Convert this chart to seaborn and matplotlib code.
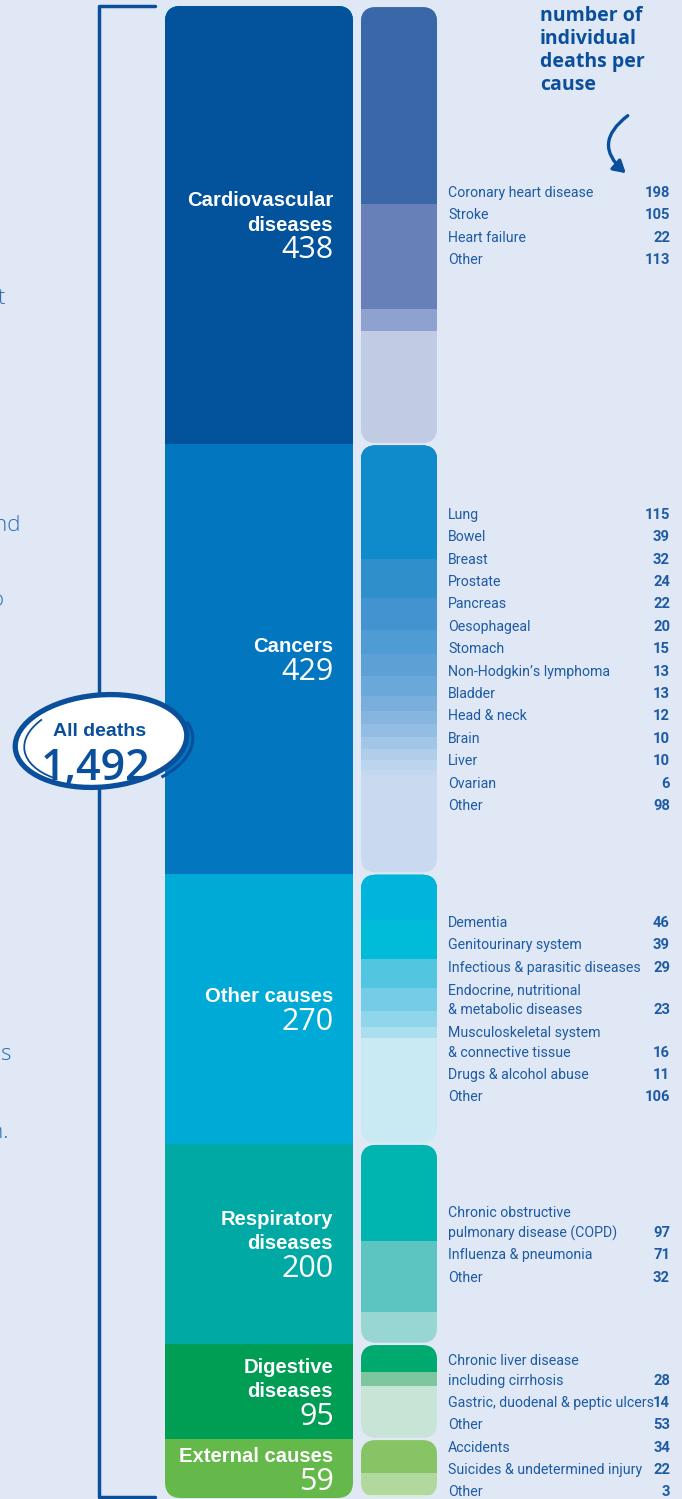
import seaborn as sns
import matplotlib.pyplot as plt
import pandas as pd
from matplotlib.patches import FancyBboxPatch, Ellipse, Arc
from matplotlib.transforms import blended_transform_factory

# --- data -------------------------------------------------------------
groups = ["Cardiovascular\ndiseases", "Cancers", "Other causes",
          "Respiratory\ndiseases", "Digestive\ndiseases", "External causes"]
group_totals = [438, 429, 270, 200, 95, 59]
group_colors = ["#02529c", "#0277c0", "#00aad6", "#00a9a4", "#009d55", "#64b94a"]

cardio_labels = ["Coronary heart disease", "Stroke", "Heart failure", "Other"]
cardio_values = [198, 105, 22, 113]
cardio_colors = ["#3a67a8", "#6880b8", "#8fa1cf", "#c2cbe4"]

cancer_labels = ["Lung", "Bowel", "Breast", "Prostate", "Pancreas", "Oesophageal",
                 "Stomach", "Non-Hodgkin\u2019s lymphoma", "Bladder", "Head & neck",
                 "Brain", "Liver", "Ovarian", "Other"]
cancer_values = [115, 39, 32, 24, 22, 20, 15, 13, 13, 12, 10, 10, 6, 98]
cancer_colors = ["#0f8acb", "#2e8fcb", "#4293cf", "#4f9bd3", "#5da0d6", "#6ba8da",
                 "#7aaedd", "#86b5e0", "#94bde3", "#a2c6e8", "#b0ceea", "#bcd5ee",
                 "#c3d8ef", "#c9daf0"]

other_labels = ["Dementia", "Genitourinary system", "Infectious & parasitic diseases",
                "Endocrine, nutritional\n& metabolic diseases",
                "Musculoskeletal system\n& connective tissue",
                "Drugs & alcohol abuse", "Other"]
other_values = [46, 39, 29, 23, 16, 11, 106]
other_colors = ["#00b4dc", "#00bcd9", "#52c5e0", "#74cce6", "#8fd6ea", "#abdfee", "#c9eaf3"]

resp_labels = ["Chronic obstructive\npulmonary disease (COPD)", "Influenza & pneumonia", "Other"]
resp_values = [97, 71, 32]
resp_colors = ["#00b4b0", "#5cc4c1", "#98d6d4"]

digest_labels = ["Chronic liver disease\nincluding cirrhosis",
                 "Gastric, duodenal & peptic ulcers", "Other"]
digest_values = [28, 14, 53]
digest_colors = ["#00a96e", "#7dc6a0", "#c8e4d6"]

extern_labels = ["Accidents", "Suicides & undetermined injury", "Other"]
extern_values = [34, 22, 3]
extern_colors = ["#86c466", "#b1d89d", "#d8ecd0"]

all_deaths = "1,492"

details = [(cardio_labels, cardio_values, cardio_colors),
           (cancer_labels, cancer_values, cancer_colors),
           (other_labels, other_values, other_colors),
           (resp_labels, resp_values, resp_colors),
           (digest_labels, digest_values, digest_colors),
           (extern_labels, extern_values, extern_colors)]

# --- layout -----------------------------------------------------------
W, H = 682, 1499
BG = "#e1e8f5"
NAVY = "#0a4f9b"
TXT = "#1d5ba5"
TOP, BOT = 6, 1498
NARROW = ["Roboto", "DejaVu Sans"]
HAND = ["Open Sans", "DejaVu Sans"]

sns.set_theme(style="white")
plt.rcParams["font.family"] = ["Liberation Sans", "DejaVu Sans"]

main_df = pd.DataFrame({"group": groups, "value": group_totals, "color": group_colors})
main_df["end"] = main_df["value"].cumsum()
main_df["start"] = main_df["end"] - main_df["value"]
total = main_df["value"].sum()
ppy = (BOT - TOP) / total

fig = plt.figure(figsize=(W / 100, H / 100), dpi=100, facecolor=BG)


def col_axes(x0, x1):
    ax = fig.add_axes([x0 / W, (H - BOT) / H, (x1 - x0) / W, (BOT - TOP) / H])
    ax.set_facecolor("none")
    return ax


ax_main = col_axes(165, 353)
ax_det = col_axes(361, 437)

# overlay in pixel coordinates for text and decorations
ax_bg = fig.add_axes([0, 0, 1, 1])
ax_bg.set_xlim(0, W)
ax_bg.set_ylim(H, 0)
ax_bg.axis("off")
ax_bg.set_zorder(3)


def rounded_clip(ax, y0, y1, r_px, px_w):
    r = r_px / px_w
    p = FancyBboxPatch((-0.5, y0), 1, y1 - y0,
                       boxstyle=f"round,pad=0,rounding_size={r}",
                       mutation_aspect=px_w / ppy,
                       transform=ax.transData, facecolor="none", edgecolor="none")
    ax.add_patch(p)
    return p


def stacked(ax, ends, colors, clips):
    # draw longest first so each shorter bar covers the top part
    order = sorted(range(len(ends)), key=lambda i: -ends[i])
    for i in order:
        sns.barplot(x=["s"], y=[ends[i]], color=colors[i], saturation=1,
                    width=1, errorbar=None, linewidth=0, ax=ax)
        for bar in ax.containers[-1]:
            bar.set_clip_path(clips[i])


# main column: one rounded bar
main_clip = rounded_clip(ax_main, 0, total, 16, 188)
stacked(ax_main, list(main_df["end"]), list(main_df["color"]),
        [main_clip] * len(main_df))

# detail column: one rounded bar per group
det_ends, det_cols, det_clips = [], [], []
for (labs, vals, cols), g0, g1 in zip(details, main_df["start"], main_df["end"]):
    clip = rounded_clip(ax_det, g0 + 1.2, g1 - 1.2, 15, 76)
    run = g0
    for v, c in zip(vals, cols):
        run += v
        det_ends.append(run)
        det_cols.append(c)
        det_clips.append(clip)
stacked(ax_det, det_ends, det_cols, det_clips)

for ax in (ax_main, ax_det):
    ax.set_xlim(-0.5, 0.5)
    ax.set_ylim(total, 0)
    ax.axis("off")

# --- labels -----------------------------------------------------------
tr_main = blended_transform_factory(ax_bg.transData, ax_main.transData)
for name, g0, g1 in zip(main_df["group"], main_df["start"], main_df["end"]):
    lines = name.split("\n")
    n = len(lines)
    mid = (g0 + g1) / 2
    step = 24.3 / ppy
    for i, ln in enumerate(lines):
        ax_bg.text(333, mid + (i - n / 2) * step, ln, transform=tr_main,
                   ha="right", va="center", color="white", fontsize=14.6,
                   fontweight="bold")
    num = main_df.loc[main_df["group"] == name, "value"].iloc[0]
    ax_bg.text(334, mid + (n / 2) * step + 1, str(num), transform=tr_main,
               ha="right", va="center", color="white", fontsize=22,
               family=HAND)

tr_det = blended_transform_factory(ax_bg.transData, ax_det.transData)
for (labs, vals, cols), g0, g1 in zip(details, main_df["start"], main_df["end"]):
    offs = []
    y = 0
    for k, lab in enumerate(labs):
        parts = lab.split("\n")
        for j, p in enumerate(parts):
            if offs:
                y += 20 if j > 0 else 22.4
            offs.append((y, p, vals[k] if j == len(parts) - 1 else None))
    mid = (g0 + g1) / 2 - offs[-1][0] / 2 / ppy + 1.5
    for y, p, v in offs:
        yy = mid + y / ppy
        ax_bg.text(448, yy, p, transform=tr_det, ha="left", va="center",
                   color=TXT, fontsize=10.2, family=NARROW)
        if v is not None:
            ax_bg.text(670, yy, str(v), transform=tr_det, ha="right", va="center",
                       color=TXT, fontsize=10.6, fontweight="bold", family=NARROW)

# --- decorations ------------------------------------------------------
ax_bg.plot([155, 99, 99, 155], [6, 6, 1497, 1497], color=NAVY, lw=2.5,
           solid_joinstyle="round", solid_capstyle="round", zorder=2)

ax_bg.add_patch(Ellipse((101, 741), 172, 92, angle=-5, facecolor="white",
                        edgecolor=NAVY, lw=3.8, zorder=3))
ax_bg.add_patch(Arc((104, 742), 160, 84, angle=-5, theta1=150, theta2=205,
                    color=NAVY, lw=1.3, zorder=4))
ax_bg.add_patch(Arc((104, 744), 178, 96, angle=-5, theta1=-10, theta2=35,
                    color=NAVY, lw=2.2, zorder=4))
ax_bg.text(100, 731, "All deaths", ha="center", va="center", color=NAVY,
           fontsize=14, fontweight="bold", zorder=5)
ax_bg.text(96, 768, all_deaths, ha="center", va="center", color=NAVY,
           fontsize=31, fontweight="semibold", family=HAND, zorder=5)

ax_bg.text(540, 6, "number of\nindividual\ndeaths per\ncause", ha="left", va="top",
           color=NAVY, fontsize=14, fontweight="bold", family=HAND,
           linespacing=1.2)
ax_bg.annotate("", xy=(628, 175), xytext=(630, 114),
               arrowprops=dict(arrowstyle="-|>,head_length=0.6,head_width=0.35",
                               connectionstyle="arc3,rad=0.65", color=NAVY, lw=2.4))

# cut-off text from the page to the left
for x, y, s in [(5, 298, "t"), (20, 525, "nd"), (4, 600, "o"), (11, 1055, "s"), (9, 1133, "n.")]:
    ax_bg.text(x, y, s, ha="right", va="center", color="#2b6cb5", fontsize=16,
               family=HAND, fontweight="light")

fig.savefig("out.png", dpi=100, facecolor=BG)
